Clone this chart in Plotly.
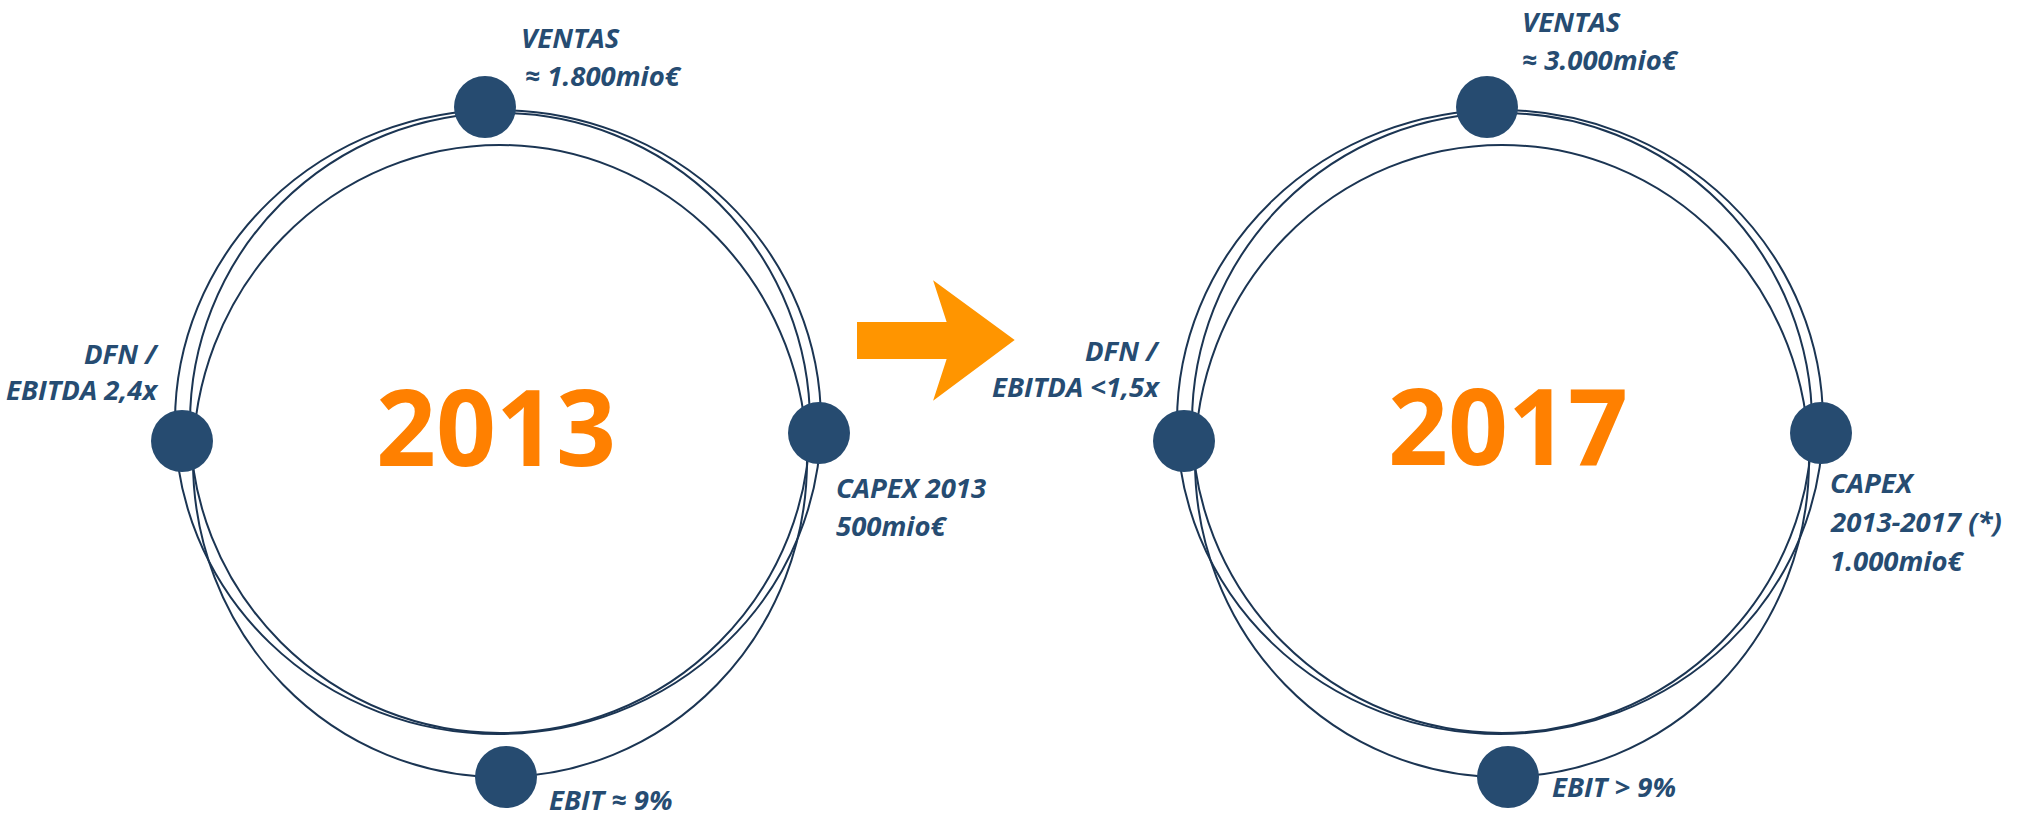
import plotly.graph_objects as go

# ---------------- data ----------------
years = ["2013", "2017"]
ventas_title = ["VENTAS", "VENTAS"]
ventas_value = ["≈ 1.800mio€", "≈ 3.000mio€"]
dfn_title = ["DFN /", "DFN /"]
dfn_value = ["EBITDA 2,4x", "EBITDA &lt;1,5x"]
capex_lines = [["CAPEX 2013", "500mio€"], ["CAPEX", "2013-2017 (*)", "1.000mio€"]]
ebit_value = ["EBIT ≈ 9%", "EBIT &gt; 9%"]

# ---------------- layout / style ----------------
W, H = 2034, 817
group_dx = [0, 1002]
TEXT_C = "#264C72"
DOT_C = "#264B70"
LINE_C = "#1B3553"
YEAR_C = "#FF8000"
ARROW_C = "#FF9500"
FONT = "Open Sans"
LBL_SIZE = 27.5

# three rings (cx, cy, rx, ry) for the 2013 group
rings = [(498, 422, 323, 312), (500, 423, 310, 310), (500, 461, 307, 316)]
# node dots (VENTAS, DFN, CAPEX, EBIT)
dots_x = [485, 182, 819, 506]
dots_y = [107, 441, 433, 777]
DOT_SIZE = 62

fig = go.Figure()
shapes = []
annotations = []

for g, dx in enumerate(group_dx):
    for cx, cy, rx, ry in rings:
        shapes.append(dict(type="circle", xref="x", yref="y",
                           x0=cx - rx + dx, x1=cx + rx + dx,
                           y0=cy - ry, y1=cy + ry,
                           line=dict(color=LINE_C, width=2), layer="below"))
    fig.add_trace(go.Scatter(x=[v + dx for v in dots_x], y=dots_y, mode="markers",
                             marker=dict(size=DOT_SIZE, color=DOT_C, line=dict(width=0)),
                             hoverinfo="skip", showlegend=False))
    # big year
    annotations.append(dict(x=[496, 1508][g], y=[425, 424][g], text="<b>" + years[g] + "</b>",
                            showarrow=False, xanchor="center", yanchor="middle",
                            font=dict(family=FONT, size=105, color=YEAR_C)))

def lbl(x, y, text, anchor):
    annotations.append(dict(x=x, y=y, text="<b><i>" + text + "</i></b>", showarrow=False,
                            xanchor=anchor, yanchor="middle",
                            font=dict(family=FONT, size=LBL_SIZE, color=TEXT_C)))

# 2013 labels
lbl(519, 37, ventas_title[0], "left")
lbl(523, 75, ventas_value[0], "left")
lbl(161, 353, dfn_title[0], "right")
lbl(161, 389, dfn_value[0], "right")
for i, t in enumerate(capex_lines[0]):
    lbl(834, 487 + 38 * i, t, "left")
lbl(547, 799, ebit_value[0], "left")

# 2017 labels
lbl(1520, 21, ventas_title[1], "left")
lbl(1520, 59, ventas_value[1], "left")
lbl(1162, 350, dfn_title[1], "right")
lbl(1162, 386, dfn_value[1], "right")
for i, t in enumerate(capex_lines[1]):
    lbl(1828, 482 + 39 * i, t, "left")
lbl(1550, 786, ebit_value[1], "left")

# arrow
arrow_path = "M 858 323 L 948 323 L 935 283 L 1013 340 L 935 398 L 948 358 L 858 358 Z"
shapes.append(dict(type="path", xref="x", yref="y", path=arrow_path,
                   fillcolor=ARROW_C, line=dict(color=ARROW_C, width=2), layer="above"))

fig.update_layout(
    width=W, height=H, margin=dict(l=0, r=0, t=0, b=0),
    paper_bgcolor="white", plot_bgcolor="white",
    xaxis=dict(range=[0, W], visible=False, fixedrange=True),
    yaxis=dict(range=[H, 0], visible=False, fixedrange=True),
    shapes=shapes, annotations=annotations, showlegend=False,
)

fig.write_html("out.html", config={"displayModeBar": False, "staticPlot": True},
               post_script="document.body.style.margin='0';document.body.style.overflow='hidden';")
